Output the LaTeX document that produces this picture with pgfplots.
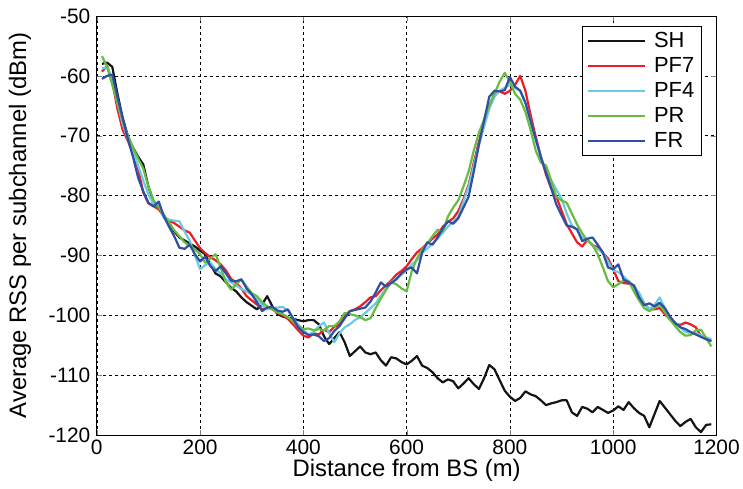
\documentclass[border=0pt]{standalone}
\usepackage{fontspec}
\setmainfont{Liberation Sans}
\usepackage{pgfplots}
\usepackage{pgfplotstable}
\pgfplotsset{compat=1.18}
\usetikzlibrary{calc}
\definecolor{cSH}{RGB}{20,20,20}
\definecolor{cPFs}{RGB}{236,30,36}
\definecolor{cPFf}{RGB}{104,204,226}
\definecolor{cPR}{RGB}{104,188,66}
\definecolor{cFR}{RGB}{48,78,164}
\pgfplotstableread{
x sh pf7 pf4 pr fr
10 -58 -59.3 -58.8 -56.7 -60.5
20 -57.8 -58.3 -58.5 -58.5 -60
30 -58.5 -61 -60.5 -61.5 -59.8
40 -63 -65.5 -64.5 -64.5 -63.5
50 -67 -69 -68 -67.5 -67
60 -70 -70.8 -70.5 -70 -70.5
70 -72 -73 -72.5 -72 -73.5
80 -73.5 -75.5 -75 -73.8 -77
90 -74.8 -79.5 -77.5 -75.5 -79.3
100 -78.5 -81.3 -79.8 -78.5 -81.2
110 -81 -81.8 -81.5 -80.8 -81.8
120 -82 -82.3 -81.5 -82 -81
130 -83.5 -83.5 -83.8 -83.2 -83.5
140 -84.5 -84.2 -84 -84.5 -85.2
150 -86 -84.6 -84.2 -85.8 -86.8
160 -87 -85.2 -84.3 -86.8 -88.7
170 -87.5 -85.8 -86 -87.8 -88.9
180 -88 -86.2 -87.5 -88.4 -88.2
190 -88.5 -87.5 -90 -89 -89.8
200 -89.2 -88.8 -92.3 -89.8 -91
210 -89.8 -89.6 -91.6 -91.2 -90.2
220 -91.5 -90.3 -91.2 -90.5 -91.8
230 -93 -90.8 -92.3 -89.8 -92.6
240 -93.5 -91.5 -93 -92 -91.8
250 -94.5 -92.5 -94 -94.5 -93
260 -95.4 -93.9 -94.5 -95.7 -94.2
270 -96 -94.6 -95 -94.8 -94.3
280 -97 -95.5 -95.6 -94 -94
290 -97.8 -96.8 -96 -95.2 -95.5
300 -98.4 -97.5 -96.5 -96.3 -96.5
310 -99 -98.2 -97.3 -96.8 -97.8
320 -98.2 -99 -98.3 -97.8 -99.3
330 -96.8 -98.8 -99 -98.5 -98.7
340 -98.5 -99 -98.8 -99 -98.6
350 -99.8 -99.6 -98.7 -99.5 -99.2
360 -100.2 -100 -98.6 -99.8 -99.4
370 -100.4 -100.6 -99.2 -100.3 -99
380 -100.6 -101.5 -100.5 -101 -100.5
390 -100.8 -102.5 -101.5 -101.8 -102
400 -101 -103.4 -102.5 -102.3 -102.8
410 -100.8 -103.7 -103.2 -102.2 -103.3
420 -100.8 -103 -102.8 -102.5 -103.2
430 -101.5 -103.2 -101.8 -102.3 -103.5
440 -103.5 -102.4 -101.2 -102.5 -104.3
450 -104.8 -102.8 -103 -101.8 -103.8
460 -103.8 -101.9 -104.5 -101.8 -102.6
470 -102.8 -101.5 -103 -101 -101.8
480 -104.5 -100.2 -102 -99.6 -100.5
490 -106.8 -99.3 -101.5 -99.8 -99.3
500 -106 -99 -100.8 -100 -99.1
510 -105.2 -98.5 -100.3 -100.3 -98.9
520 -106.2 -97.8 -99.6 -100.8 -98.7
530 -106.5 -97 -98.8 -100.5 -97.7
540 -106.2 -96.8 -98 -98.8 -96.2
550 -107.5 -95.8 -96.8 -97.2 -94.5
560 -108.4 -95 -95.5 -95.8 -95.2
570 -107 -94.2 -94.5 -94.5 -94.6
580 -107.2 -93.2 -93.8 -94.8 -94
590 -107.8 -92.6 -93.2 -95.5 -93
600 -108.2 -91.8 -92.5 -96 -92.3
610 -107.6 -90.6 -91.5 -92.6 -92
620 -106.8 -89.5 -90.8 -90.5 -93
630 -108.4 -88.8 -89.6 -89 -89.5
640 -108.8 -88 -88.8 -88 -87.8
650 -109.5 -87.2 -88 -86.8 -88.2
660 -110.5 -86.5 -87.2 -85.7 -87
670 -111.2 -85.2 -86.2 -86 -85.5
680 -110.7 -84.4 -85.2 -83.5 -84.3
690 -111 -83.8 -84.4 -82 -84.7
700 -112.2 -82.6 -83.5 -80.8 -83.8
710 -111.4 -80.6 -81 -78.5 -82
720 -110.5 -78.2 -78.5 -76 -80.2
730 -111.5 -74.5 -75 -72.5 -76
740 -112.3 -71 -71.5 -69.5 -71.5
750 -110.5 -68 -68.5 -67.3 -67.5
760 -108.3 -65 -65.5 -65 -63.5
770 -109 -63 -63.5 -63 -62.5
780 -110.8 -62.6 -62.5 -61 -62.6
790 -112.6 -63 -62 -59.5 -62.4
800 -113.6 -62.5 -61.5 -61 -60.2
810 -114.3 -61.5 -62 -63 -61.8
820 -113.8 -60 -62.5 -64 -62.5
830 -112.7 -62.5 -64.5 -66 -64.5
840 -113.2 -66.5 -67.5 -69 -67.5
850 -113.5 -70.2 -70.8 -72.5 -70.5
860 -114.2 -73.5 -73.5 -74.5 -73.6
870 -115 -76.5 -76 -75 -76.2
880 -114.7 -78.8 -77.5 -77.5 -78.8
890 -114.5 -80.2 -79 -80.2 -81.5
900 -114.2 -82.5 -80.5 -80.8 -83.3
910 -114.2 -84.8 -83 -81.2 -85
920 -116.2 -86.3 -85 -83 -85.2
930 -116.8 -87.8 -85.8 -84.8 -85.6
940 -115.3 -88.5 -87 -86.3 -87.6
950 -115.6 -87.4 -87.5 -87.5 -87.2
960 -116.2 -88.3 -88.3 -88.3 -87
970 -115.3 -88.6 -89 -89.8 -88.2
980 -115.8 -89.6 -89.5 -92 -89.5
990 -116.3 -90.5 -91 -94.3 -92
1000 -115.9 -92.3 -92.5 -95.3 -92.3
1010 -115.2 -94.3 -92.8 -94.8 -91.5
1020 -115.8 -94.6 -93.5 -94.2 -94
1030 -114.5 -94.7 -94.3 -94.3 -94.5
1040 -115.5 -95 -95.2 -96 -95
1050 -116.3 -96.5 -96.2 -97.5 -97
1060 -116.8 -98 -98 -98.8 -98.3
1070 -118.7 -99 -99 -99.3 -98
1080 -116.5 -99 -98.3 -98.8 -98.5
1090 -114.3 -98.8 -97 -98.2 -97.9
1100 -115.4 -99.8 -98.8 -99.5 -98.8
1110 -116.5 -100.7 -100.3 -100.7 -100.2
1120 -117.6 -101.4 -101.2 -101.8 -101.3
1130 -118.5 -101.6 -102 -102.8 -102
1140 -117.8 -101.2 -102.8 -103.4 -102.3
1150 -117.3 -101.5 -102.9 -103.3 -102.8
1160 -118.7 -102 -103 -102.5 -103.2
1170 -119.5 -103.5 -103.3 -102.4 -103.6
1180 -118.3 -103.8 -103.7 -103.8 -104
1190 -118.2 -104.3 -104 -105.2 -104.3
}\datatable
\begin{document}
\begin{tikzpicture}
\begin{axis}[
  scale only axis,
  width=621bp, height=420bp,
  xmin=0, xmax=1200, ymin=-120, ymax=-50,
  xtick={0,200,...,1200},
  ytick={-120,-110,...,-50},
  tick align=inside,
  major tick length=5bp,
  grid=major,
  major grid style={black, dashed, line width=0.5bp},
  axis line style={black, line width=0.7bp},
  /pgf/number format/assume math mode=true,
  /pgf/number format/1000 sep={},
  tick label style={font=\fontsize{21}{23}\selectfont},
  xticklabel style={yshift=-1bp},
  yticklabel style={xshift=-3bp},
  every axis x label/.style={at={(axis description cs:0.5,-0.085)}, anchor=center,
    font=\fontsize{24}{26}\selectfont},
  every axis y label/.style={at={(axis description cs:-0.124,0.5)}, anchor=center, rotate=90,
    font=\fontsize{24}{26}\selectfont},
  xlabel={Distance from BS (m)},
  ylabel={Average RSS per subchannel (dBm)},
  legend style={at={(0.976,0.976)}, anchor=north east, draw=black, line width=0.7bp,
    font=\fontsize{22}{24}\selectfont, row sep=4.5bp, inner xsep=5bp, inner ysep=4bp,
    /tikz/every odd column/.append style={column sep=6bp}},
  legend cell align=left,
  legend image code/.code={\draw[#1] (0bp,0bp) -- (57bp,0bp);},
  every axis plot/.append style={line width=2.2bp, line join=round},
]
\addplot[cSH] table[x=x,y=sh] {\datatable};
\addlegendentry{SH}
\addplot[cPFs] table[x=x,y=pf7] {\datatable};
\addlegendentry{PF7}
\addplot[cPFf] table[x=x,y=pf4] {\datatable};
\addlegendentry{PF4}
\addplot[cPR] table[x=x,y=pr] {\datatable};
\addlegendentry{PR}
\addplot[cFR] table[x=x,y=fr] {\datatable};
\addlegendentry{FR}
\end{axis}
\path ($(current axis.south west)+(-97bp,-54bp)$) rectangle ($(current axis.north east)+(25bp,16bp)$);
\end{tikzpicture}
\end{document}
